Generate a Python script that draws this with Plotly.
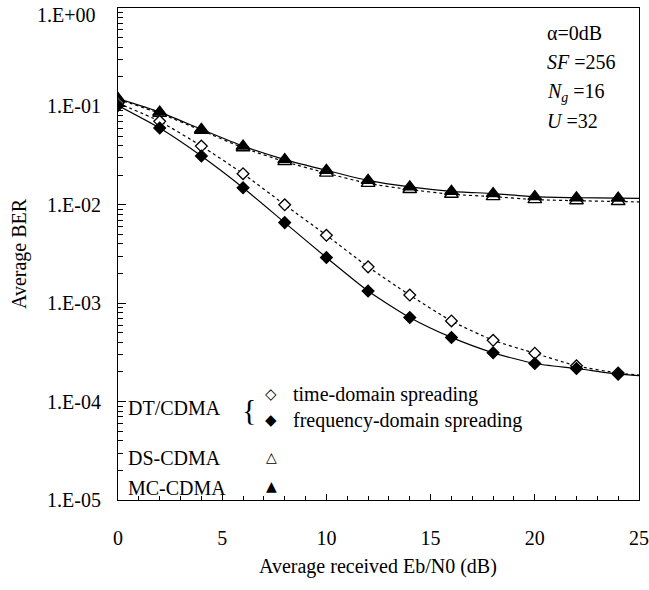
import plotly.graph_objects as go

# ---------------- data ----------------
snr_db = [0, 2, 4, 6, 8, 10, 12, 14, 16, 18, 20, 22, 24]

ber_dt_time = [0.108, 0.0705, 0.0395, 0.0207, 0.0100, 0.0049, 0.00234,
               0.00121, 0.00066, 0.00042, 0.00031, 0.000231, 0.000195]
ber_dt_freq = [0.102, 0.0602, 0.0313, 0.0149, 0.00659, 0.00291, 0.00133,
               0.000716, 0.000449, 0.000313, 0.000244, 0.000217, 0.00019]
ber_ds = [0.118, 0.085, 0.057, 0.038, 0.0275, 0.021, 0.0165,
          0.0143, 0.0128, 0.0121, 0.0113, 0.0110, 0.0108]
ber_mc = [0.120, 0.0875, 0.0584, 0.0395, 0.0288, 0.0224, 0.0177,
          0.0152, 0.0137, 0.0130, 0.0121, 0.0118, 0.0117]

# curve values where the fitted lines meet the right border (x = 25 dB)
line_end_snr = 25
line_end_ber = [0.000186, 0.000184, 0.0107, 0.0116]  # dt_time, dt_freq, ds, mc

x_tick_vals = [0, 5, 10, 15, 20, 25]
y_tick_vals = [1, 1e-1, 1e-2, 1e-3, 1e-4, 1e-5]
y_tick_text = ["1.E+00", "1.E-01", "1.E-02", "1.E-03", "1.E-04", "1.E-05"]

FONT = "Liberation Serif, Times New Roman, serif"
FS = 20

fig = go.Figure()

series = [
    ("DT/CDMA time-domain", ber_dt_time, "dot", "diamond-open", 9, 0),
    ("DT/CDMA frequency-domain", ber_dt_freq, "solid", "diamond", 9, 1),
    ("DS-CDMA", ber_ds, "dot", "triangle-up-open", 12, 2),
    ("MC-CDMA", ber_mc, "solid", "triangle-up", 12, 3),
]

# lines first
for name, ys, dash, sym, size, k in series:
    fig.add_trace(go.Scatter(
        x=snr_db + [line_end_snr], y=ys + [line_end_ber[k]],
        mode="lines", line=dict(color="black", width=1.2, dash=dash, shape="spline", smoothing=0.6),
        showlegend=False, hoverinfo="skip"))

# markers on top
for name, ys, dash, sym, size, k in [series[2], series[3], series[0], series[1]]:
    is_open = sym.endswith("-open")
    fig.add_trace(go.Scatter(
        x=snr_db, y=ys, mode="markers", name=name,
        marker=dict(symbol=sym.replace("-open", ""), size=size,
                    color="white" if is_open else "black",
                    line=dict(color="black", width=1.3)),
        showlegend=False))

L, R, T, B = 118, 10, 8, 90
W, H = 649, 590
pw, ph = W - L - R, H - T - B


def px(x):
    return (x - L) / pw


def py(y):
    return (H - B - y) / ph


annotations = []


def txt(x, y, text, xanchor="left", size=FS, family=FONT):
    annotations.append(dict(x=px(x), y=py(y), xref="paper", yref="paper",
                            text=text, showarrow=False, xanchor=xanchor, yanchor="middle",
                            font=dict(family=family, size=size, color="black")))


# top tick label sits slightly below its tick (as in the reference) so it is not cut
axis_tick_text = [""] + y_tick_text[1:]
txt(98, 15, y_tick_text[0], xanchor="right")

# parameter block (top-right)
txt(545, 33, "α=0dB")
txt(545, 62, "<i>SF</i> =256")
txt(545, 92, "<i>N</i><sub><i>g</i></sub> =16")
txt(545, 121, "<i>U</i> =32")

# hand-made legend
SYM = "DejaVu Sans"
txt(126, 408, "DT/CDMA")
txt(249, 409, "{", xanchor="center", size=30)
txt(271, 394, "◇", xanchor="center", size=15, family=SYM)
txt(291, 394, "time-domain spreading")
txt(271, 420, "◆", xanchor="center", size=15, family=SYM)
txt(291, 420, "frequency-domain spreading")
txt(126, 458, "DS-CDMA")
txt(271, 457, "△", xanchor="center", size=14, family=SYM)
txt(126, 488, "MC-CDMA")
txt(271, 486, "▲", xanchor="center", size=14, family=SYM)

# axis titles placed as annotations
txt(378, 566, "Average received Eb/N0 (dB)", xanchor="center")
annotations.append(dict(x=px(19), y=py(254), xref="paper", yref="paper",
                        text="Average BER", showarrow=False, textangle=-90,
                        xanchor="center", yanchor="middle",
                        font=dict(family=FONT, size=FS, color="black")))

minor_y = [m * 10 ** e for e in range(-5, 0) for m in range(2, 10)]

fig.update_layout(
    width=W, height=H,
    margin=dict(l=L, r=R, t=T, b=B, autoexpand=False),
    paper_bgcolor="white", plot_bgcolor="white",
    font=dict(family=FONT, size=FS, color="black"),
    annotations=annotations,
    xaxis=dict(
        range=[0, 25], tickmode="array", tickvals=x_tick_vals,
        ticks="inside", ticklen=6, tickwidth=1, tickcolor="black",
        showline=True, linecolor="black", linewidth=1, mirror=True,
        showgrid=False, zeroline=False, automargin=False,
        minor=dict(ticks="inside", ticklen=4, tickwidth=1, tickcolor="black",
                   tickmode="linear", dtick=1, showgrid=False),
        ticklabelstandoff=20, ticklabeloverflow="allow",
        tickfont=dict(family=FONT, size=FS),
    ),
    yaxis=dict(
        type="log", range=[-5, 0], tickmode="array",
        tickvals=y_tick_vals, ticktext=axis_tick_text,
        ticks="inside", ticklen=8, tickwidth=1, tickcolor="black",
        showline=True, linecolor="black", linewidth=1, mirror=True,
        showgrid=False, zeroline=False, automargin=False,
        minor=dict(ticks="inside", ticklen=5, tickwidth=1, tickcolor="black",
                   tickmode="array", tickvals=minor_y, showgrid=False),
        ticklabelstandoff=12, ticklabeloverflow="allow",
        tickfont=dict(family=FONT, size=FS),
    ),
)

fig.write_html(
    "out.html",
    config={"displayModeBar": False},
    post_script="document.body.style.margin='0';document.body.style.overflow='hidden';",
)
